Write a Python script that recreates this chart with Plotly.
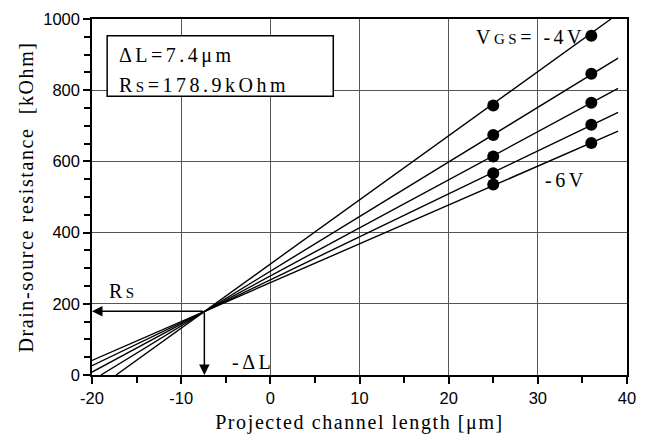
import plotly.graph_objects as go

# Measured points (x = projected channel length [um], y = resistance [kOhm])
vgs_labels = ["-4V", "-4.5V", "-5V", "-5.5V", "-6V"]
x_points = [25, 36]
r_at_25 = [757, 674, 614, 567, 535]
r_at_36 = [953, 846, 765, 703, 652]

# Fitted lines: start / end coordinates
line_x_start = [-17.3, -19.0, -20, -20, -20]
line_y_start = [0, 0, 8, 26, 41]
line_x_end = [38.2, 39, 39, 39, 39]
line_y_end = [1000, 890, 805, 738, 685]

# Intersection
dL = 7.4
Rs = 178.9

x_tickvals = [-20, -10, 0, 10, 20, 30, 40]
x_ticktext = ["-20", "-10", "0", "10", "20", "30", "40"]
y_tickvals = [0, 200, 400, 600, 800, 1000]
y_ticktext = ["0", "200", "400", "600", "800", "1000"]

serif = "Liberation Serif, Times New Roman, serif"
sans = "Liberation Sans, Arial, sans-serif"

fig = go.Figure()
for i in range(len(vgs_labels)):
    fig.add_trace(go.Scatter(
        x=[line_x_start[i], line_x_end[i]], y=[line_y_start[i], line_y_end[i]],
        mode="lines", line=dict(color="black", width=1.4), showlegend=False,
        hoverinfo="skip"))
for i in range(len(vgs_labels)):
    fig.add_trace(go.Scatter(
        x=x_points, y=[r_at_25[i], r_at_36[i]], mode="markers",
        marker=dict(color="black", size=12), showlegend=False, name=vgs_labels[i]))

axis_common = dict(
    showline=True, linecolor="black", linewidth=1.5, mirror=True,
    ticks="outside", ticklen=7, tickwidth=1.5, tickcolor="black",
    showgrid=True, gridcolor="#555555", gridwidth=1, zeroline=False,
    tickfont=dict(family=sans, size=16.5, color="black"),
)

fig.update_xaxes(range=[-20, 40], tickmode="array", tickvals=x_tickvals, ticktext=x_ticktext,
                 minor=dict(dtick=5, tick0=0, ticks="outside", ticklen=6, tickcolor="black", showgrid=False),
                 title=dict(text="Projected channel length [μm]", font=dict(family=serif, size=20, color="black"), standoff=9),
                 **axis_common)
fig.update_yaxes(range=[0, 1000], tickmode="array", tickvals=y_tickvals, ticktext=y_ticktext,
                 minor=dict(dtick=50, tick0=0, ticks="outside", ticklen=6, tickcolor="black", showgrid=False),
                 title=dict(text="Drain-source resistance  [kOhm]", font=dict(family=serif, size=20, color="black"), standoff=4),
                 **axis_common)

# Legend box
fig.add_shape(type="rect", x0=-18.3, x1=7.06, y0=783, y1=953, xref="x", yref="y",
              line=dict(color="black", width=1.5), fillcolor="white", layer="above")

ann_font = dict(family=serif, size=20, color="black")
small = "<span style='font-size:15px'>%s</span>"
annotations = [
    dict(x=-17.2, y=897, text="ΔL=7.4μm", xanchor="left", align="left", yanchor="middle", showarrow=False, font=ann_font),
    dict(x=-17.2, y=814, text="R" + small % "S" + "=178.9kOhm", xanchor="left", align="left", yanchor="middle", showarrow=False, font=ann_font),
    dict(x=22.8, y=950, text="V" + small % "GS" + "= -4V", xanchor="left", align="left", yanchor="middle", showarrow=False, font=ann_font),
    dict(x=30.6, y=547, text="-6V", xanchor="left", align="left", yanchor="middle", showarrow=False, font=ann_font),
    dict(x=-18.3, y=236, text="R" + small % "S", xanchor="left", align="left", yanchor="middle", showarrow=False, font=ann_font),
    dict(x=-4.5, y=36, text="-ΔL", xanchor="left", align="left", yanchor="middle", showarrow=False, font=ann_font),
    dict(x=-20, y=Rs, ax=-dL, ay=Rs, xref="x", yref="y", axref="x", ayref="y",
         showarrow=True, arrowhead=2, arrowsize=1.4, arrowwidth=1.5, arrowcolor="black", text=""),
    dict(x=-dL, y=0, ax=-dL, ay=Rs, xref="x", yref="y", axref="x", ayref="y",
         showarrow=True, arrowhead=2, arrowsize=1.4, arrowwidth=1.5, arrowcolor="black", text=""),
]
fig.update_layout(
    annotations=annotations,
    width=646, height=441,
    margin=dict(l=92, r=10, t=15, b=66),
    plot_bgcolor="white", paper_bgcolor="white",
)

post = """
var gd = document.getElementById('{plot_id}');
function ls(){
  gd.querySelectorAll('.g-xtitle text, .g-ytitle text').forEach(function(e){ e.style.letterSpacing='1.6px'; });
  gd.querySelectorAll('.annotation-text').forEach(function(e){ e.style.letterSpacing='3.5px'; });
}
ls();
gd.on('plotly_afterplot', ls);
"""
fig.write_html("out.html", post_script=post)
